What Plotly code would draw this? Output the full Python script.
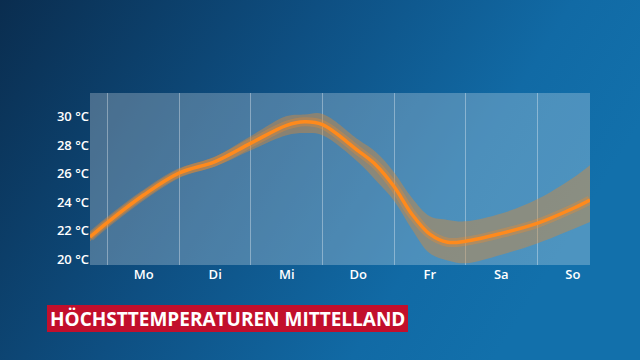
import base64
import plotly.graph_objects as go

# ---- data (x in days; 0 = start of Monday) ----
x_days = [-0.25, 0, 0.5, 1, 1.5, 2, 2.5, 2.75, 3, 3.5, 3.75, 4, 4.25, 4.5, 4.75, 5, 5.5, 6, 6.5, 6.74]
temp_mean = [21.55, 22.6, 24.5, 26.05, 26.85, 28.15, 29.4, 29.65, 29.45, 27.6, 26.6, 25.1, 23.15, 21.75, 21.18, 21.25, 21.8, 22.5, 23.55, 24.15]
temp_low = [21.25, 22.3, 24.2, 25.75, 26.5, 27.65, 28.7, 28.85, 28.7, 26.8, 25.5, 24.1, 22.1, 20.4, 19.9, 19.7, 20.3, 21.1, 22.1, 22.6]
temp_high = [21.85, 22.9, 24.8, 26.35, 27.2, 28.65, 30.05, 30.15, 30.2, 28.4, 27.5, 26.1, 24.3, 23.0, 22.75, 22.65, 23.2, 24.2, 25.7, 26.6]

day_labels = ["Mo", "Di", "Mi", "Do", "Fr", "Sa", "So"]
day_centers = [0.5, 1.5, 2.5, 3.5, 4.5, 5.5, 6.5]
y_ticks = [20, 22, 24, 26, 28, 30]
y_ticktext = [f"{v} °C" for v in y_ticks]
title_text = "HÖCHSTTEMPERATUREN MITTELLAND"

FONT = "Open Sans"

# gradient background as SVG
svg = """<svg xmlns='http://www.w3.org/2000/svg' width='640' height='360' viewBox='0 0 640 360' preserveAspectRatio='none'>
<defs><linearGradient id='g' x1='0' y1='0' x2='1' y2='0.35'>
<stop offset='0' stop-color='#0a2d4f'/>
<stop offset='0.45' stop-color='#0e4f82'/>
<stop offset='0.8' stop-color='#116aa5'/>
<stop offset='1' stop-color='#1270ab'/>
</linearGradient></defs>
<rect width='640' height='360' fill='url(#g)'/></svg>"""
bg_uri = "data:image/svg+xml;base64," + base64.b64encode(svg.encode()).decode()

fig = go.Figure()

# uncertainty band
fig.add_trace(go.Scatter(x=x_days, y=temp_low, mode="lines", line=dict(width=0, shape="spline", smoothing=1),
                         hoverinfo="skip", showlegend=False))
fig.add_trace(go.Scatter(x=x_days, y=temp_high, mode="lines", line=dict(width=0, shape="spline", smoothing=1),
                         fill="tonexty", fillcolor="rgba(225,135,45,0.42)", hoverinfo="skip", showlegend=False))
# glow
fig.add_trace(go.Scatter(x=x_days, y=temp_mean, mode="lines",
                         line=dict(color="rgba(255,140,30,0.30)", width=9, shape="spline", smoothing=1),
                         hoverinfo="skip", showlegend=False))
# main line
fig.add_trace(go.Scatter(x=x_days, y=temp_mean, mode="lines",
                         line=dict(color="#ff8a1c", width=3.5, shape="spline", smoothing=1),
                         showlegend=False))

fig.update_layout(
    width=640, height=360,
    margin=dict(l=90, r=50, t=93, b=95),
    paper_bgcolor="#0e4f82",
    plot_bgcolor="rgba(0,0,0,0)",
    font=dict(family=FONT, color="white", size=13),
    hovermode=False,
    images=[dict(source=bg_uri, xref="paper", yref="paper", x=-90 / 500, y=1 + 93 / 172,
                 sizex=640 / 500, sizey=360 / 172, xanchor="left", yanchor="top",
                 sizing="stretch", layer="below")],
    xaxis=dict(range=[-0.25, 6.74], tickmode="array", tickvals=day_centers, ticktext=day_labels,
               showgrid=False, zeroline=False, showline=False, ticks="",
               tickfont=dict(family=FONT, size=13, color="white", weight=600),
               minor=dict(tick0=0, dtick=1, showgrid=True, gridcolor="rgba(255,255,255,0.35)", gridwidth=1, ticks=""),
               fixedrange=True),
    yaxis=dict(range=[19.58, 31.67], tickmode="array", tickvals=y_ticks, ticktext=y_ticktext,
               showgrid=False, zeroline=False, showline=False, ticks="",
               tickfont=dict(family=FONT, size=13, color="white", weight=600),
               fixedrange=True),
    shapes=[
        dict(type="rect", xref="paper", yref="paper", x0=0, x1=1, y0=0, y1=1,
             fillcolor="rgba(255,255,255,0.25)", line=dict(width=0), layer="below"),
        dict(type="rect", xref="paper", yref="paper",
             x0=(47 - 90) / 500, x1=(408 - 90) / 500, y0=(265 - 332) / 172, y1=(265 - 305) / 172,
             fillcolor="#c20f2c", line=dict(width=0), layer="above"),
    ],
    annotations=[dict(text=title_text, xref="paper", yref="paper", x=(227.5 - 90) / 500, y=(265 - 318.5) / 172,
                      xanchor="center", yanchor="middle", showarrow=False,
                      font=dict(family=FONT, size=19, color="white", weight=700))],
)

fig.write_html("out.html", config={"displayModeBar": False, "staticPlot": True},
               post_script="document.body.style.margin='0';document.body.style.padding='0';")
